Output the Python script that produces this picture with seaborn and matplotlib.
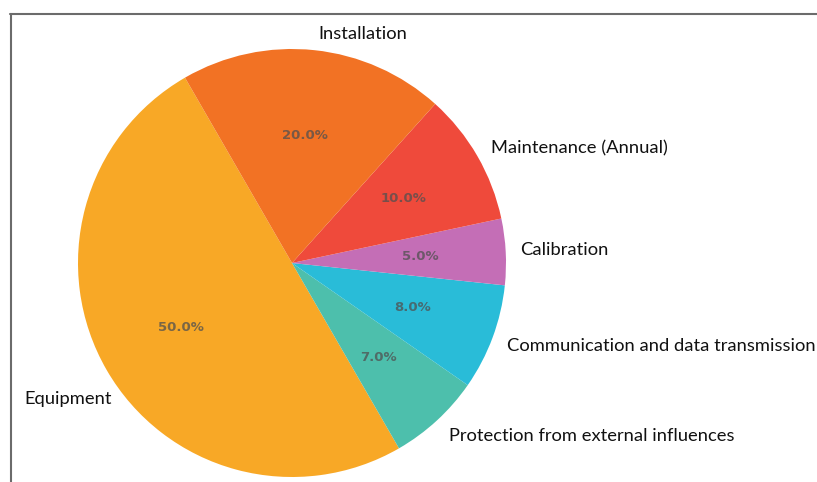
import matplotlib
matplotlib.use("Agg")
import matplotlib.pyplot as plt
import seaborn as sns

sns.set_theme(style="white")
plt.rcParams['font.family'] = ['Lato', 'DejaVu Sans']

categories = ["Equipment", "Protection from external influences",
              "Communication and data transmission", "Calibration",
              "Maintenance (Annual)", "Installation"]
values = [50, 7, 8, 5, 10, 20]
colors = ["#F8A826", "#4DBFAC", "#29BCD8", "#C46EB6", "#EF4A3B", "#F27224"]

fig = plt.figure(figsize=(8.17, 4.82), dpi=100)
ax = fig.add_axes([0, 0, 1, 1])

R = 214.0
cx, cy = 292.0, 263.0
W, H = 817.0, 482.0

wedges, texts, autotexts = ax.pie(
    values, labels=categories, colors=colors, startangle=120,
    autopct="%1.1f%%", pctdistance=0.6, labeldistance=1.1,
    wedgeprops=dict(linewidth=0, edgecolor="none"),
    textprops=dict(fontsize=13.2, color="#111111"),
)
for t in autotexts:
    t.set_fontsize(9.5)
    t.set_color("#505050")
    t.set_alpha(0.75)
    t.set_fontweight("bold")
    t.set_family("DejaVu Sans")

# label anchor positions in pixels (x, y-center), as in the reference
label_px = [(112, 399, "right"), (449, 436, "left"), (507, 346, "left"),
            (520, 250, "left"), (491, 148, "left"), (318, 34, "left")]
for t, (px, py, ha) in zip(texts, label_px):
    t.set_position(((px - cx) / R, -(py - cy) / R))
    t.set_ha(ha)
    t.set_va("center")

ax.set_xlim(-cx / R, (W - cx) / R)
ax.set_ylim(-(H - cy) / R, cy / R)
ax.set_aspect("auto")
ax.axis("off")

# partial frame (top and left lines)
fig.add_artist(plt.Line2D([10 / W, 1], [1 - 13.5 / H, 1 - 13.5 / H],
                          transform=fig.transFigure, color="#6b6b6b", lw=1.5))
fig.add_artist(plt.Line2D([10.5 / W, 10.5 / W], [0, 1 - 13.5 / H],
                          transform=fig.transFigure, color="#6b6b6b", lw=1.5))

fig.savefig("out.png", dpi=100)
